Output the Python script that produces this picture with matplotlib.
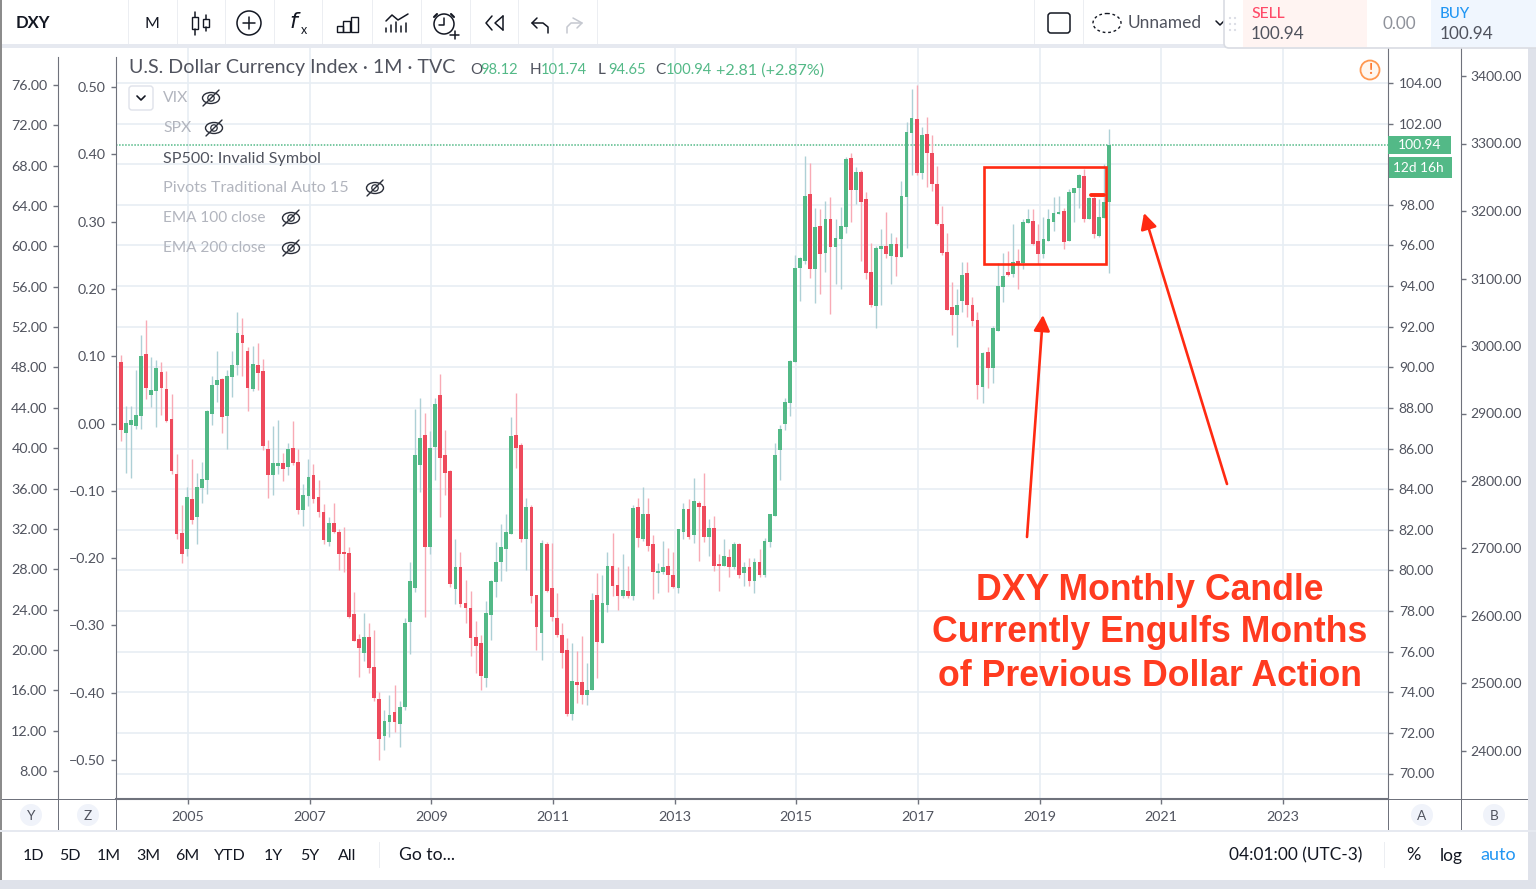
import matplotlib
matplotlib.use("Agg")
import matplotlib.pyplot as plt
from matplotlib.patches import Rectangle, FancyBboxPatch, Circle, Ellipse, FancyArrowPatch

W, H = 1536, 889
FONT = "Lato"
plt.rcParams["font.family"] = [FONT, "DejaVu Sans"]

opens = [90.24,86.79,87.15,87.10,87.60,90.68,88.63,88.84,89.75,88.94,
 87.45,84.74,81.83,81.04,83.51,82.64,84.07,84.44,87.71,89.12,
 89.43,87.60,89.50,90.11,91.60,90.80,88.94,90.11,89.81,85.97,
 84.69,85.13,85.30,85.07,86.04,85.36,82.97,83.64,84.69,83.62,
 82.88,81.42,82.32,81.90,80.91,80.85,77.83,76.64,75.92,76.71,
 75.23,73.69,71.85,72.52,73.01,72.46,73.26,77.46,79.14,85.18,
 86.66,81.17,86.10,88.63,85.67,84.88,79.07,80.17,78.38,78.14,
 76.72,76.41,74.69,77.82,79.43,80.42,81.04,81.78,86.66,86.17,
 81.53,83.13,78.81,76.90,81.29,79.12,77.64,76.84,76.10,72.95,
 74.49,74.49,73.87,74.11,78.81,76.45,78.32,80.24,79.30,78.76,
 79.01,78.74,83.13,81.53,82.77,81.29,79.86,79.93,80.24,79.75,
 79.12,81.90,83.01,81.72,83.31,83.19,81.65,82.09,80.30,80.24,
 80.66,80.17,81.29,79.86,80.17,79.50,80.42,79.75,81.40,82.70,
 85.92,87.22,88.22,90.26,94.89,95.25,98.52,94.82,96.97,95.63,
 97.29,95.94,96.30,96.93,100.31,98.71,99.63,98.27,94.69,93.02,
 95.81,95.99,95.50,96.05,95.45,98.40,101.56,102.23,99.57,101.49,
 100.55,99.01,97.04,95.68,92.97,92.59,93.26,94.63,93.08,92.34,
 89.01,90.75,89.99,91.80,93.95,94.71,94.58,95.23,95.12,97.11,
 97.22,96.24,95.56,96.24,97.16,97.53,97.71,96.24,98.58,98.83,
 99.44,97.30,98.34,96.48,97.35,98.12]
highs = [90.60,88.09,88.09,89.86,91.59,92.32,90.49,90.35,90.24,89.81,
 88.68,85.72,83.21,84.11,85.48,84.80,85.35,87.89,89.57,90.80,
 89.48,89.86,90.80,92.70,92.41,90.98,91.04,91.22,90.42,86.41,
 87.10,87.40,85.79,86.28,87.35,85.97,84.25,85.48,85.23,84.44,
 83.26,82.64,83.33,82.03,82.14,81.16,78.93,76.89,77.89,77.40,
 77.09,74.00,73.11,73.87,74.38,73.56,77.65,80.42,87.94,88.50,
 87.77,86.85,88.50,89.68,86.90,84.93,81.53,80.91,79.55,79.01,
 77.51,76.84,78.51,79.55,81.40,82.27,82.77,87.53,88.76,86.28,
 83.55,83.24,78.81,81.49,81.42,81.35,78.88,77.40,76.66,76.41,
 76.03,76.77,75.43,78.87,79.86,79.75,80.91,81.83,80.17,80.80,
 80.24,83.24,83.55,84.13,83.55,81.72,80.35,81.47,81.11,80.91,
 82.03,83.31,83.51,84.54,83.44,84.80,82.52,82.70,80.80,81.53,
 81.04,81.40,81.35,80.42,80.60,80.60,81.04,81.60,82.77,86.28,
 87.15,88.51,90.36,95.53,95.45,100.42,100.04,97.84,97.78,98.21,
 98.39,97.29,97.91,100.36,100.54,99.86,99.72,98.63,96.10,95.99,
 96.79,97.65,96.60,96.43,99.19,102.06,103.71,103.90,101.85,102.34,
 101.42,99.93,97.96,96.60,94.20,93.87,95.18,95.18,93.48,92.71,
 90.75,91.00,92.03,95.12,95.61,95.74,97.04,95.81,97.29,97.78,
 97.78,97.04,97.40,97.78,98.40,98.45,97.84,98.76,98.83,99.54,
 99.75,98.40,98.45,98.27,100.00,101.74]
lows = [86.36,84.80,84.57,86.97,86.97,88.45,88.06,87.04,87.65,87.32,
 84.76,81.55,80.37,80.73,82.28,81.29,83.33,83.75,87.15,88.27,
 86.79,85.99,88.52,89.62,89.57,87.84,88.84,88.88,85.94,83.57,
 83.70,84.74,84.38,84.69,85.18,82.79,82.21,83.15,83.33,82.65,
 81.29,81.22,81.85,80.00,79.93,77.66,76.50,74.76,75.54,74.94,
 73.59,70.67,71.16,71.78,72.03,71.29,73.15,75.86,78.94,83.87,
 77.71,80.81,84.44,82.64,83.70,79.17,78.33,78.20,77.40,75.79,
 74.93,74.11,74.24,76.59,78.69,79.48,79.99,81.78,85.05,81.40,
 80.04,78.40,76.10,75.61,78.94,77.51,76.72,75.18,72.83,72.65,
 73.46,73.44,73.39,74.11,74.69,76.41,77.96,78.76,78.07,78.63,
 78.63,78.56,81.16,81.47,80.98,78.58,78.87,79.81,78.94,79.12,
 78.87,81.53,81.53,81.35,80.48,81.40,80.73,79.99,79.01,80.24,
 79.68,80.06,79.61,79.25,79.25,78.87,79.68,79.68,81.16,82.70,
 84.44,86.90,87.61,90.26,93.28,95.07,94.40,93.15,93.59,94.71,
 92.61,94.08,93.84,96.61,97.17,98.04,95.25,94.33,92.98,91.92,
 93.05,95.38,94.08,94.51,95.45,95.87,99.47,99.45,99.27,98.90,
 98.70,96.99,95.53,92.82,91.60,91.00,92.72,92.49,92.05,88.44,
 88.22,88.96,89.21,91.80,93.23,94.51,94.46,93.84,94.82,97.09,
 96.01,95.09,95.40,96.24,96.73,97.53,95.81,96.24,97.17,97.84,
 97.17,97.30,96.37,96.43,97.35,94.65]
closes = [86.92,87.27,87.40,87.65,90.55,88.96,88.88,89.99,88.96,87.35,
 84.89,81.80,80.80,83.62,82.47,84.11,84.49,87.84,89.12,89.37,
 87.53,89.57,90.11,91.67,91.18,88.96,90.17,89.70,86.12,84.69,
 85.30,85.30,85.00,85.97,85.31,82.97,83.70,84.62,83.51,82.90,
 81.49,82.32,81.90,80.80,80.80,77.71,76.53,76.17,76.71,75.18,
 73.70,71.72,72.57,72.88,72.52,73.26,77.40,79.48,85.67,86.53,
 81.17,86.03,88.20,85.54,84.80,79.32,80.17,78.33,78.14,76.66,
 76.28,74.80,77.89,79.50,80.42,81.16,81.90,86.61,86.03,81.53,
 83.13,78.76,77.22,81.35,79.01,77.71,76.84,75.92,72.95,74.56,
 74.36,73.87,74.11,78.56,76.48,78.38,80.24,79.25,78.76,79.06,
 78.74,83.08,81.60,82.77,81.22,79.93,79.99,80.17,79.75,79.19,
 82.03,83.01,81.65,83.44,83.13,81.65,82.09,80.24,80.24,80.73,
 80.17,81.29,79.75,80.17,79.50,80.42,79.75,81.47,82.77,85.67,
 86.97,88.27,90.31,94.87,95.38,98.45,94.82,96.93,95.56,97.29,
 95.94,96.37,96.97,100.24,98.71,99.63,98.16,94.64,93.05,95.87,
 95.99,95.56,96.05,95.45,98.45,101.60,102.29,99.57,101.42,100.55,
 99.01,97.06,95.63,92.84,92.59,93.08,94.56,93.08,92.29,89.14,
 90.69,89.99,91.92,94.02,94.51,94.56,95.17,95.09,97.16,97.29,
 96.06,95.56,96.30,97.29,97.60,97.65,96.17,98.63,98.83,99.47,
 97.30,98.34,96.55,97.40,98.16,100.94]

first_year = 2005
year_labels = [2005, 2007, 2009, 2011, 2013, 2015, 2017, 2019, 2021, 2023]
y_ticks = list(range(8, 80, 4))
z_ticks = [-0.5, -0.4, -0.3, -0.2, -0.1, 0.0, 0.1, 0.2, 0.3, 0.4, 0.5]
a_ticks = list(range(70, 106, 2))
a_hidden_label = 100  # covered by the last-price tags in the reference
b_ticks = list(range(2400, 3500, 100))
last_price = 100.94

GRID = "#e7eef4"
AXC = "#6f727c"
TXT = "#50535e"
GREEN = "#53b987"
GREEN_W = "#aed0d6"
RED = "#ee4a5c"
RED_W = "#f8aab5"
MARK = "#ff2a12"
DIM = "#b2b5be"


def box(l, t, r, b):
    return [l / W, 1 - b / H, (r - l) / W, (b - t) / H]


def lim(v1, y1, v2, y2, top, bot):
    k = (v2 - v1) / (y2 - y1)
    return v1 + (bot - y1) * k, v1 + (top - y1) * k


TOP, BOT = 47, 799
fig = plt.figure(figsize=(W / 100, H / 100), dpi=100, facecolor="white")

ax = fig.add_axes(box(116, TOP, 1388, BOT), facecolor="white", zorder=1)
ax.set_ylim(*lim(104, 83, 70, 773.5, TOP, BOT))
idx0 = (116 - 188) / 5.069 + 13
idx1 = (1388 - 188) / 5.069 + 13
ax.set_xlim(idx0, idx1)

# TradingView centres bars slightly left of the time gridlines
xs = [i - 0.25 for i in range(len(opens))]
gcol = [GREEN if c >= o else RED for o, c in zip(opens, closes)]
wcol = [GREEN_W if c >= o else RED_W for o, c in zip(opens, closes)]
ax.vlines(xs, lows, highs, colors=wcol, linewidth=1.0, zorder=3)
ax.bar(xs, [abs(c - o) for o, c in zip(opens, closes)],
       bottom=[min(o, c) for o, c in zip(opens, closes)],
       width=0.74, color=gcol, linewidth=0, zorder=4)

year_pos = [13 + (y - first_year) * 12 for y in year_labels]
ax.set_xticks(year_pos)
ax.set_xticklabels([str(y) for y in year_labels], fontsize=10.3, color=TXT)
ax.tick_params(axis="x", length=3.6, width=1, color=AXC, pad=5.3)
ax.yaxis.tick_right()
ax.set_yticks(a_ticks)
ax.set_yticklabels(["" if v == a_hidden_label else f"{v:.2f}" for v in a_ticks], fontsize=10, color=TXT)
ax.tick_params(axis="y", length=3.6, width=1, color=AXC, pad=4.2)
ax.grid(True, color=GRID, linewidth=1.2, zorder=0)
ax.set_axisbelow(True)
for s in ["top", "left"]:
    ax.spines[s].set_visible(False)
ax.spines["right"].set_color(AXC)
ax.spines["bottom"].set_color(AXC)
ax.spines["bottom"].set_linewidth(1.5)
ax.axhline(last_price, color=GREEN, linewidth=1.1, linestyle=(0, (1, 1)), zorder=2)


def side_axis(l, r, anchors, ticks, labels, top=TOP):
    a = fig.add_axes(box(l, top, r, BOT), facecolor="none", zorder=2)
    a.set_ylim(*lim(*anchors, top, BOT))
    a.set_xticks([])
    a.yaxis.tick_right()
    a.set_yticks(ticks)
    a.set_yticklabels(labels, fontsize=10, color=TXT)
    a.tick_params(axis="y", length=3.6, width=1, color=AXC, pad=3.2)
    for s in ["top", "left", "bottom"]:
        a.spines[s].set_visible(False)
    a.spines["right"].set_color(AXC)
    return a


def left_axis(l, r, anchors, ticks, labels, top=57):
    a = fig.add_axes(box(l, top, r, BOT), facecolor="none", zorder=2)
    a.set_ylim(*lim(*anchors, top, BOT))
    a.set_xticks([])
    a.set_yticks(ticks)
    a.set_yticklabels(labels, fontsize=10.3, color=TXT)
    a.tick_params(axis="y", length=3.6, width=1, color=AXC, pad=4)
    for s in ["top", "right", "bottom"]:
        a.spines[s].set_visible(False)
    a.spines["left"].set_color(AXC)
    return a


left_axis(58, 116, (76, 85, 8, 771), y_ticks, [f"{v:.2f}" for v in y_ticks])
left_axis(116, 170, (0.5, 87, -0.5, 760), z_ticks,
          [f"{v:.2f}".replace("-", "\u2212") for v in z_ticks])
side_axis(1388, 1461, (3400, 76, 2400, 751), b_ticks, [f"{v:.2f}" for v in b_ticks])

# Overlay in figure pixels for the interface chrome and hand annotations
ov = fig.add_axes([0, 0, 1, 1], facecolor="none", zorder=5)
ov.set_xlim(0, W)
ov.set_ylim(H, 0)
ov.axis("off")


def T(x, y, s, size=10.5, color=TXT, ha="center", **kw):
    ov.text(x, y + 1.5, s, fontsize=size, color=color, ha=ha, va="center", **kw)


def L(xs_, ys_, c="#131722", lw=1.1, **kw):
    ov.plot(xs_, ys_, color=c, linewidth=lw, solid_capstyle="round", **kw)


def R(l, t, r, b, fc, ec="none", lw=0, z=1):
    ov.add_patch(Rectangle((l, t), r - l, b - t, facecolor=fc, edgecolor=ec, linewidth=lw, zorder=z))


# Page frame, toolbars
R(0, 0, 2, H, "#8c8c8c")
R(2, 44, 1536, 48, "#e6e9f0")
R(1528, 48, 1536, 880, "#dfe2ea")
R(0, 830, 1536, 832, "#e6e9f0")
R(0, 880, 1536, 889, "#dfe2ea")
R(2, 799, 116, 800, AXC)
R(1388, 799, 1528, 800, AXC)
for x_ in [58, 116, 1388, 1461]:
    R(x_ - 0.5, 799, x_ + 0.5, 830, AXC)
for x_ in [128, 177, 225, 274, 322, 372, 421, 470, 518, 597, 1034, 1083]:
    R(x_ - 0.5, 0, x_ + 0.5, 44, "#eceef2")

T(33, 22, "DXY", 12, "#131722", weight="bold")
T(152, 22, "M", 11.5, "#131722")
# candle icon
for cx, t_, b_, wt, wb in [(195, 17, 29, 12, 35), (206, 19, 27, 15, 31)]:
    ov.add_patch(Rectangle((cx - 3, t_), 6, b_ - t_, fc="white", ec="#131722", lw=1))
    L([cx, cx], [wt, t_]); L([cx, cx], [b_, wb])
ov.add_patch(Circle((249, 23), 12, fc="none", ec="#131722", lw=1.1))
L([243, 255], [23, 23]); L([249, 249], [17, 29])
T(295, 20, "$f$", 16, "#131722", family="DejaVu Serif")
T(304, 28, "x", 9, "#131722")
for l_, t_ in [(337, 26), (343, 21), (351, 17)]:
    ov.add_patch(Rectangle((l_, t_), 7 if l_ != 337 else 6, 32 - t_, fc="none", ec="#131722", lw=1))
L([386, 392, 398, 403, 408], [21, 15, 20, 17, 14])
for xx, tt in [(386, 28), (391, 25), (396, 22), (401, 26), (406, 23)]:
    L([xx, xx], [tt, 32])
ov.add_patch(Circle((444, 24), 10, fc="none", ec="#131722", lw=1.1))
L([444, 444, 439], [18, 25, 25]); L([450, 459], [35, 35]); L([455, 455], [31, 39])
L([437, 434], [14, 17], lw=1.5); L([451, 454], [14, 17], lw=1.5)
L([492, 486, 492], [16, 23, 30]); L([503, 495, 503], [16, 23, 30]); L([503, 503], [16, 30])
L([537, 532, 537], [18, 23, 28]); L([532, 543, 548, 548], [23, 23, 27, 33])
L([573, 582, 577], [18, 23, 28], c="#c5c8d0"); L([582, 571, 567, 567], [23, 23, 27, 33], c="#c5c8d0")
ov.add_patch(FancyBboxPatch((1048, 13), 22, 20, boxstyle="round,pad=0,rounding_size=3", fc="white", ec="#131722", lw=1.1))
ov.add_patch(Ellipse((1107, 23), 28, 19, fc="none", ec="#131722", lw=1, ls=(0, (2, 2))))
T(1128, 22, "Unnamed", 12.5, TXT, ha="left")
L([1216, 1220, 1224], [21, 25, 21])

# Trade panel
ov.add_patch(FancyBboxPatch((1224, -6), 330, 54, boxstyle="round,pad=0,rounding_size=5",
                            fc="white", ec="#d9dce3", lw=1.2, zorder=2))
R(1243, 0, 1367, 47, "#fff4f2", z=3)
R(1431, 0, 1536, 47, "#f0f6fe", z=3)
for yy in (18, 24, 30):
    for xx in (1230, 1235):
        ov.add_patch(Circle((xx, yy), 1.1, fc="#d9dce3", ec="none", zorder=3))
ov.text(1251, 14, "SELL", fontsize=11.3, color="#ff4a68", va="center", zorder=4, weight="medium")
ov.text(1251, 34, "100.94", fontsize=12.3, color=TXT, va="center", zorder=4)
ov.text(1399, 24, "0.00", fontsize=12.3, color="#8f929b", ha="center", va="center", zorder=4)
ov.text(1440, 14, "BUY", fontsize=10.8, color="#2196f3", va="center", zorder=4, weight="medium")
ov.text(1440, 34, "100.94", fontsize=12.3, color=TXT, va="center", zorder=4)

# Title and OHLC
T(129, 66, "U.S. Dollar Currency Index \u00b7 1M \u00b7 TVC", 14.1, TXT, ha="left")
for x_, lab, val in [(470, "O", "98.12"), (530, "H", "101.74"), (598, "L", "94.65"), (655, "C", "100.94")]:
    T(x_, 69, lab, 11, TXT, ha="left")
    T(x_ + 10.5, 69, val, 10.6, GREEN, ha="left")
T(716, 69, "+2.81 (+2.87%)", 11.6, GREEN, ha="left")


# Study legend
def eye(cx, cy):
    ov.add_patch(Ellipse((cx, cy), 17, 11, fc="none", ec="#2a2e39", lw=1))
    ov.add_patch(Circle((cx, cy), 3.2, fc="none", ec="#2a2e39", lw=0.9))
    L([cx - 8, cx + 8], [cy + 8, cy - 8], c="#2a2e39", lw=1)


ov.add_patch(FancyBboxPatch((129, 86), 24, 24, boxstyle="round,pad=0,rounding_size=3",
                            fc="white", ec="#dfe2ea", lw=1))
L([137, 141, 145], [96, 100, 96], lw=1.2)
T(163, 97, "VIX", 11.3, DIM, ha="left"); eye(211, 98)
T(163, 127, "SPX", 11.3, DIM, ha="left"); eye(214, 128)
T(163, 157, "SP500: Invalid Symbol", 11.6, TXT, ha="left")
T(163, 187, "Pivots Traditional Auto 15", 11.6, DIM, ha="left"); eye(375, 188)
T(163, 217, "EMA 100 close", 11.1, DIM, ha="left"); eye(291, 218)
T(163, 247, "EMA 200 close", 11.1, DIM, ha="left"); eye(291, 248)

# Warning badge and last-price tags
ov.add_patch(Circle((1370, 70), 9.5, fc="#fff7ef", ec="#ff9850", lw=1.3))
T(1370, 69, "!", 10.5, "#ff7a30", weight="bold")
R(1388, 136, 1451, 154, GREEN, z=3)
ov.text(1420, 145, "100.94", fontsize=10, color="white", ha="center", va="center", zorder=4)
R(1389, 157, 1452, 178, GREEN, z=3)
ov.text(1418, 167.5, "12d 16h", fontsize=9.8, color="white", ha="center", va="center", zorder=4)

# Red hand annotations
ov.add_patch(Rectangle((984, 167), 122, 97, fc="none", ec=MARK, lw=1.9, zorder=6))
L([1091, 1104], [195, 195], c=MARK, lw=2.8, zorder=6)
for a_, b_ in [((1027, 537), (1043, 315)), ((1227, 484), (1144, 213))]:
    ov.add_patch(FancyArrowPatch(a_, b_, arrowstyle="-|>,head_length=7,head_width=3.6",
                                 mutation_scale=1.35, color=MARK, lw=1.9, shrinkA=0, shrinkB=0, zorder=6))
for y_, s in [(590, "DXY Monthly Candle"), (633, "Currently Engulfs Months"), (676, "of Previous Dollar Action")]:
    ov.text(1150, y_, s, fontsize=25.7, color="#ff3b20", ha="center", va="center",
            family="Liberation Sans", weight="bold", zorder=6)

# Scale buttons
for x_, s in [(31, "Y"), (88, "Z"), (1422, "A"), (1494, "B")]:
    ov.add_patch(Circle((x_, 815), 11, fc="#f0f3fa", ec="none"))
    T(x_, 814, s, 9.8, TXT)

# Bottom bar
for x_, s in [(33, "1D"), (70, "5D"), (109, "1M"), (148, "3M"), (187, "6M"), (230, "YTD"),
              (273, "1Y"), (310, "5Y"), (347, "All")]:
    T(x_, 854, s, 11.5, "#131722")
R(378.5, 842, 379.5, 868, "#eceef2")
T(399, 854, "Go to...", 12.6, "#131722", ha="left")
T(1296, 854, "04:01:00 (UTC-3)", 12.4, "#131722")
R(1384, 842, 1385, 868, "#eceef2")
T(1413, 854, "%", 13, "#131722")
T(1451, 854, "log", 12.5, "#131722")
T(1498, 854, "auto", 13, "#2196f3")

fig.savefig("out.png", dpi=100)
